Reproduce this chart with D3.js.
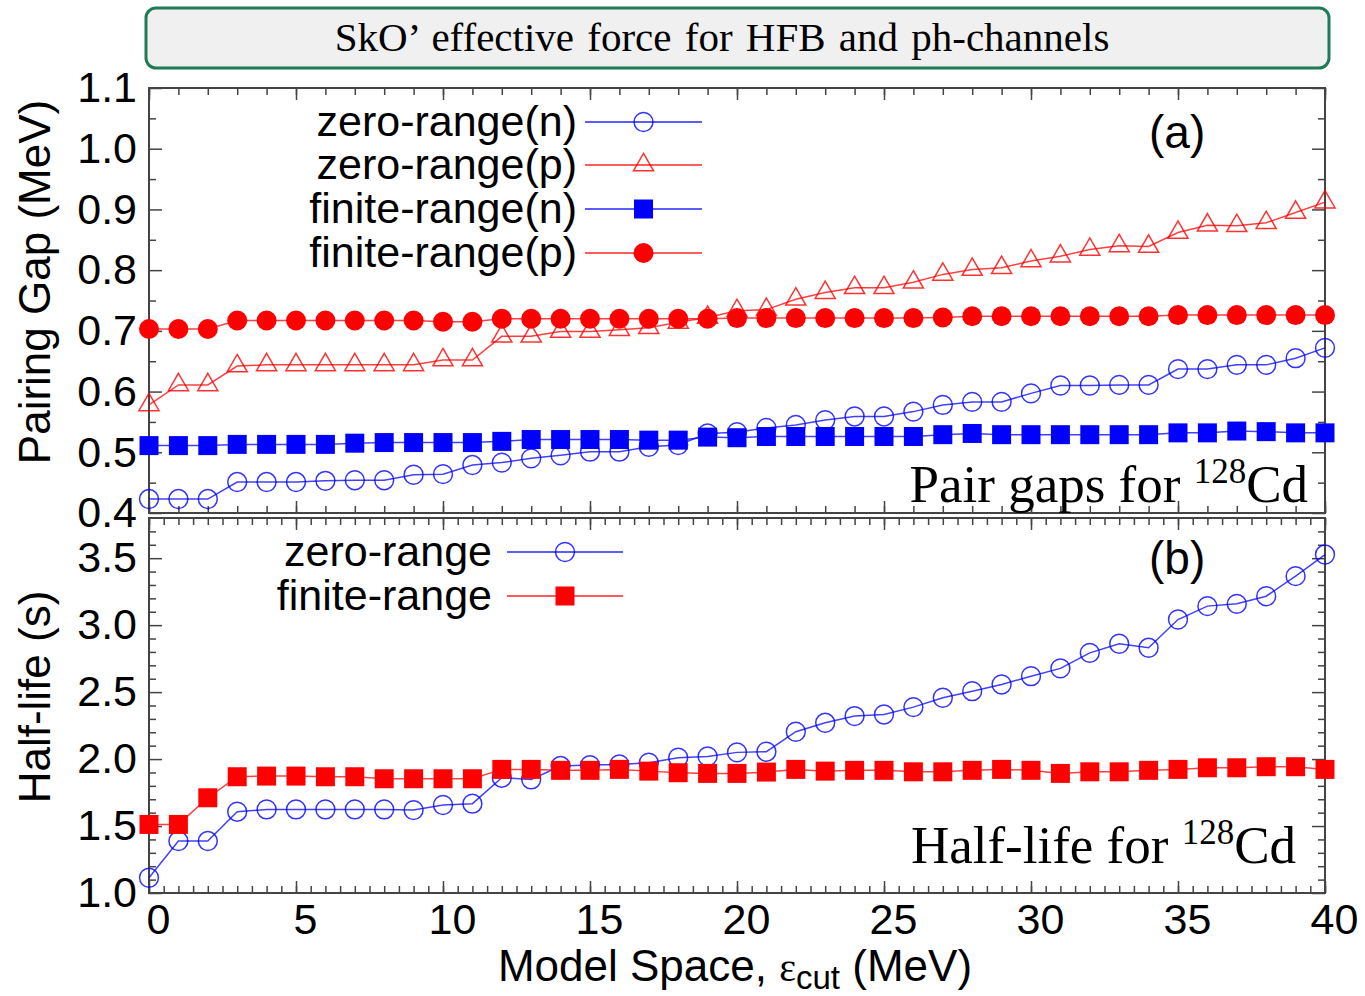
<!DOCTYPE html>
<html>
<head>
<meta charset="utf-8">
<script src="https://cdn.jsdelivr.net/npm/d3@7"></script>
<style>
    body { margin: 0; background: #fff; }
    text { font-family: "Liberation Sans", Arial, sans-serif; }
    .serif { font-family: "Liberation Serif", "Times New Roman", serif; }
</style>
</head>
<body>
<svg id="chart" width="1365" height="996"></svg>
<script>
// model space cut-off (MeV)
const cutoff = [0, 1, 2, 3, 4, 5, 6, 7, 8, 9, 10, 11, 12, 13, 14, 15, 16, 17, 18, 19, 20,
    21, 22, 23, 24, 25, 26, 27, 28, 29, 30, 31, 32, 33, 34, 35, 36, 37, 38, 39, 40];

// panel (a): pairing gaps (MeV)
const gapZeroN = [0.423, 0.423, 0.423, 0.451, 0.451, 0.451, 0.453, 0.454, 0.454, 0.463, 0.464,
    0.479, 0.483, 0.490, 0.495, 0.501, 0.501, 0.509, 0.512, 0.531, 0.533,
    0.540, 0.545, 0.553, 0.559, 0.559, 0.567, 0.578, 0.583, 0.583, 0.597,
    0.610, 0.610, 0.611, 0.611, 0.637, 0.637, 0.644, 0.644, 0.655, 0.672];
const gapZeroP = [0.578, 0.611, 0.611, 0.642, 0.644, 0.644, 0.644, 0.644, 0.644, 0.644, 0.652,
    0.652, 0.691, 0.691, 0.699, 0.699, 0.702, 0.705, 0.714, 0.722, 0.733,
    0.735, 0.752, 0.763, 0.771, 0.771, 0.780, 0.793, 0.801, 0.804, 0.815,
    0.823, 0.834, 0.840, 0.839, 0.862, 0.874, 0.873, 0.878, 0.895, 0.912];
const gapFiniteN = [0.511, 0.511, 0.511, 0.513, 0.513, 0.513, 0.513, 0.515, 0.516, 0.516, 0.516,
    0.516, 0.518, 0.521, 0.521, 0.521, 0.521, 0.520, 0.520, 0.525, 0.524,
    0.526, 0.526, 0.526, 0.526, 0.526, 0.526, 0.529, 0.531, 0.529, 0.529,
    0.529, 0.529, 0.529, 0.529, 0.532, 0.532, 0.535, 0.534, 0.532, 0.532];
const gapFiniteP = [0.703, 0.703, 0.703, 0.717, 0.717, 0.717, 0.717, 0.717, 0.717, 0.717, 0.715,
    0.715, 0.720, 0.720, 0.720, 0.720, 0.720, 0.720, 0.720, 0.720, 0.721,
    0.721, 0.721, 0.721, 0.721, 0.721, 0.721, 0.722, 0.724, 0.724, 0.724,
    0.724, 0.724, 0.724, 0.724, 0.726, 0.726, 0.726, 0.726, 0.726, 0.726];

// panel (b): half-life (s)
const halfZero = [1.114, 1.388, 1.388, 1.607, 1.624, 1.624, 1.624, 1.624, 1.624, 1.619, 1.657,
    1.667, 1.861, 1.848, 1.948, 1.955, 1.960, 1.973, 2.010, 2.020, 2.050,
    2.055, 2.204, 2.271, 2.321, 2.333, 2.388, 2.458, 2.507, 2.557, 2.619,
    2.677, 2.793, 2.861, 2.831, 3.042, 3.142, 3.159, 3.216, 3.366, 3.527];
const halfFinite = [1.512, 1.512, 1.711, 1.868, 1.873, 1.873, 1.868, 1.868, 1.853, 1.853, 1.853,
    1.853, 1.923, 1.923, 1.916, 1.916, 1.923, 1.910, 1.898, 1.893, 1.893,
    1.903, 1.923, 1.910, 1.916, 1.916, 1.905, 1.905, 1.916, 1.923, 1.916,
    1.893, 1.905, 1.905, 1.916, 1.923, 1.935, 1.935, 1.943, 1.943, 1.923];

// tick values
const xMajor = [0, 5, 10, 15, 20, 25, 30, 35, 40];
const gapMajor = [0.4, 0.5, 0.6, 0.7, 0.8, 0.9, 1.0, 1.1];
const gapMinor = [0.45, 0.55, 0.65, 0.75, 0.85, 0.95, 1.05];
const halfMajor = [1.0, 1.5, 2.0, 2.5, 3.0, 3.5];
const halfMinor = [1.1, 1.2, 1.3, 1.4, 1.6, 1.7, 1.8, 1.9, 2.1, 2.2, 2.3, 2.4,
    2.6, 2.7, 2.8, 2.9, 3.1, 3.2, 3.3, 3.4, 3.6, 3.7];

const BLUE = "#0000ff";
const RED = "#ff0000";

const svg = d3.select("#chart");

//scales:
const x = d3.scaleLinear().domain([0, 40]).range([149, 1325]);
const yGap = d3.scaleLinear().domain([0.4, 1.1]).range([513, 88]);
const yHalf = d3.scaleLinear().domain([1.0, 3.8]).range([893, 518]);

// title box
svg.append("rect")
    .attr("x", 146).attr("y", 8)
    .attr("width", 1183).attr("height", 60)
    .attr("rx", 10)
    .attr("fill", "#f0f0f0")
    .attr("stroke", "#1e7a57")
    .attr("stroke-width", 3);
svg.append("text")
    .attr("class", "serif")
    .attr("x", 722).attr("y", 51)
    .attr("text-anchor", "middle")
    .style("font-size", "41px")
    .style("word-spacing", "3px")
    .text("SkO’ effective force for HFB and ph-channels");

function styleAxis(g) {
    g.select(".domain").remove();
    g.selectAll(".tick line").attr("stroke", "#444").attr("stroke-width", 1.5);
    g.selectAll("text")
        .style("font-family", "'Liberation Sans', Arial, sans-serif")
        .style("font-size", "43px")
        .attr("fill", "#000");
}

function drawFrame(y, yMaj, yMin, xMinor, xLabels) {
    const [x0, x1] = x.range();
    const [yb, yt] = y.range();
    let g = svg.append("g");

    // left
    g.append("g").attr("transform", `translate(${x0},0)`)
        .call(d3.axisLeft(y).tickValues(yMin).tickSize(-7).tickFormat(""))
        .call(styleAxis);
    g.append("g").attr("transform", `translate(${x0},0)`)
        .call(d3.axisLeft(y).tickValues(yMaj).tickSize(-13).tickPadding(12).tickFormat(d3.format(".1f")))
        .call(styleAxis);
    // right
    g.append("g").attr("transform", `translate(${x1},0)`)
        .call(d3.axisRight(y).tickValues(yMin).tickSize(-7).tickFormat(""))
        .call(styleAxis);
    g.append("g").attr("transform", `translate(${x1},0)`)
        .call(d3.axisRight(y).tickValues(yMaj).tickSize(-13).tickFormat(""))
        .call(styleAxis);
    // top
    g.append("g").attr("transform", `translate(0,${yt})`)
        .call(d3.axisTop(x).tickValues(xMinor).tickSize(-7).tickFormat(""))
        .call(styleAxis);
    g.append("g").attr("transform", `translate(0,${yt})`)
        .call(d3.axisTop(x).tickValues(xMajor).tickSize(-12).tickFormat(""))
        .call(styleAxis);
    // bottom
    g.append("g").attr("transform", `translate(0,${yb})`)
        .call(d3.axisBottom(x).tickValues(xMinor).tickSize(-7).tickFormat(""))
        .call(styleAxis);
    let bottom = g.append("g").attr("transform", `translate(0,${yb})`)
        .call(d3.axisBottom(x).tickValues(xMajor).tickSize(-12).tickPadding(10)
            .tickFormat(xLabels ? d3.format("d") : ""))
        .call(styleAxis);
    bottom.selectAll("text").attr("dx", 9);

    g.append("rect")
        .attr("x", x0).attr("y", yt)
        .attr("width", x1 - x0).attr("height", yb - yt)
        .attr("fill", "none")
        .attr("stroke", "#444")
        .attr("stroke-width", 2);
}

const symbols = {
    circle: {type: d3.symbolCircle, size: 280, filled: false},
    triangle: {type: d3.symbolTriangle, size: 175, filled: false},
    square: {type: d3.symbolSquare, size: 361, filled: true},
    dot: {type: d3.symbolCircle, size: 314, filled: true}
};

function drawMarkers(g, pts, shape, color) {
    const s = symbols[shape];
    g.selectAll("path.m").data(pts)
        .join("path")
        .attr("class", "m")
        .attr("d", d3.symbol().type(s.type).size(s.size))
        .attr("transform", d => `translate(${d[0]},${d[1]})`)
        .attr("fill", s.filled ? color : "none")
        .attr("stroke", s.filled ? "none" : color)
        .attr("stroke-width", 1.5)
        .attr("opacity", s.filled ? 1 : 0.8);
}

function drawSeries(y, values, shape, color) {
    const pts = cutoff.map((c, i) => [x(c), y(values[i])]);
    let g = svg.append("g");
    g.append("path")
        .attr("d", d3.line()(pts))
        .attr("fill", "none")
        .attr("stroke", color)
        .attr("stroke-width", 1.5)
        .attr("opacity", 0.75);
    drawMarkers(g, pts, shape, color);
}

function drawLegend(items, textRight, lineX0, lineX1) {
    items.forEach(it => {
        let g = svg.append("g");
        g.append("line")
            .attr("x1", lineX0).attr("x2", lineX1)
            .attr("y1", it.y).attr("y2", it.y)
            .attr("stroke", it.color)
            .attr("stroke-width", 1.5)
            .attr("opacity", 0.85);
        drawMarkers(g, [[(lineX0 + lineX1) / 2, it.y]], it.shape, it.color);
        g.append("text")
            .attr("x", textRight).attr("y", it.y + 14)
            .attr("text-anchor", "end")
            .style("font-size", "43px")
            .text(it.label);
    });
}

// panel (a)
drawFrame(yGap, gapMajor, gapMinor, d3.range(0, 41, 1), false);
drawSeries(yGap, gapZeroN, "circle", BLUE);
drawSeries(yGap, gapZeroP, "triangle", RED);
drawSeries(yGap, gapFiniteN, "square", BLUE);
drawSeries(yGap, gapFiniteP, "dot", RED);
drawLegend([
    {label: "zero-range(n)", shape: "circle", color: BLUE, y: 122},
    {label: "zero-range(p)", shape: "triangle", color: RED, y: 165},
    {label: "finite-range(n)", shape: "square", color: BLUE, y: 209},
    {label: "finite-range(p)", shape: "dot", color: RED, y: 253}
], 577, 585, 702);

// panel (b)
drawFrame(yHalf, halfMajor, halfMinor, d3.range(0, 40.5, 0.5), true);
drawSeries(yHalf, halfZero, "circle", BLUE);
drawSeries(yHalf, halfFinite, "square", RED);
drawLegend([
    {label: "zero-range", shape: "circle", color: BLUE, y: 552},
    {label: "finite-range", shape: "square", color: RED, y: 596}
], 492, 507, 623);

// panel tags
svg.append("text").attr("x", 1149).attr("y", 148).style("font-size", "46px").text("(a)");
svg.append("text").attr("x", 1149).attr("y", 574).style("font-size", "46px").text("(b)");

function nucleusLabel(label, xRight, yBase) {
    let t = svg.append("text")
        .attr("class", "serif")
        .attr("x", xRight).attr("y", yBase)
        .attr("text-anchor", "end")
        .style("font-size", "53px");
    t.append("tspan").text(label + " ");
    t.append("tspan").attr("dy", -19).style("font-size", "35px").text("128");
    t.append("tspan").attr("dy", 19).text("Cd");
}
nucleusLabel("Pair gaps for", 1308, 502);
nucleusLabel("Half-life for", 1296, 863);

// axis titles
svg.append("text")
    .attr("transform", "translate(50,282) rotate(-90)")
    .attr("text-anchor", "middle")
    .style("font-size", "44px")
    .text("Pairing Gap (MeV)");
svg.append("text")
    .attr("transform", "translate(50,697) rotate(-90)")
    .attr("text-anchor", "middle")
    .style("font-size", "44px")
    .text("Half-life (s)");

let xTitle = svg.append("text")
    .attr("x", 735).attr("y", 981)
    .attr("text-anchor", "middle")
    .style("font-size", "44px");
xTitle.append("tspan").text("Model Space, ");
xTitle.append("tspan").attr("class", "serif").style("font-size", "40px").text("ε");
xTitle.append("tspan").attr("dy", 8).style("font-size", "33px").text("cut");
xTitle.append("tspan").attr("dy", -8).text(" (MeV)");
</script>
</body>
</html>
